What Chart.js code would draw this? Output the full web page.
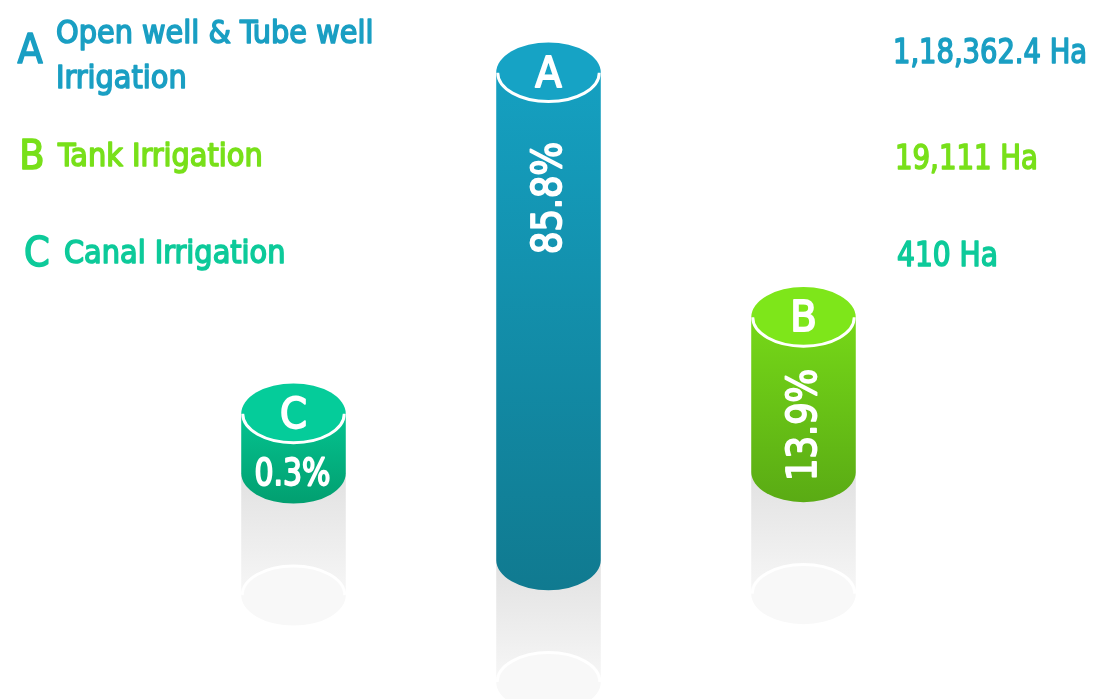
<!DOCTYPE html>
<html>
<head>
<meta charset="utf-8">
<script src="https://cdn.jsdelivr.net/npm/chart.js@4.4.1/dist/chart.umd.min.js"></script>
<style>
  html, body { margin: 0; padding: 0; background: #ffffff; }
  #wrap { width: 1093px; height: 699px; }
</style>
</head>
<body>
<div id="wrap"><canvas id="c" width="1093" height="699"></canvas></div>
<script>
// ---------------- data ----------------
const categories = ['C', 'A', 'B'];
const sharePct = [0.3, 85.8, 13.9];
// cylinder extents as drawn in the infographic (not proportional to share)
const cylinderBase = [32.3, 19.9, 32.5];
const cylinderTop = [40.8, 89.6, 54.6];

const legendLetters = ['A', 'B', 'C'];
const legendNames = [['Open well & Tube well', 'Irrigation'], ['Tank Irrigation'], ['Canal Irrigation']];
const legendAreas = ['1,18,362.4 Ha', '19,111 Ha', '410 Ha'];

// ---------------- styles ----------------
const FONT = '"DejaVu Sans Condensed", "DejaVu Sans", sans-serif';
const palette = {
  A: { text: '#1a9fc3', top: '#16a3c5', hi: '#15a0c1', lo: '#107a90' },
  B: { text: '#78e01a', top: '#7ee61a', hi: '#76d818', lo: '#5aab14' },
  C: { text: '#0dca9a', top: '#05cc9a', hi: '#04c390', lo: '#029f70' }
};

function thickText(ctx, txt, x, y, color, size, maxW, lw) {
  ctx.font = size + 'px ' + FONT;
  ctx.fillStyle = color;
  ctx.strokeStyle = color;
  ctx.lineWidth = lw || 1.5;
  ctx.lineJoin = 'round';
  if (maxW) { ctx.fillText(txt, x, y, maxW); ctx.strokeText(txt, x, y, maxW); }
  else { ctx.fillText(txt, x, y); ctx.strokeText(txt, x, y); }
}

const cylinderPlugin = {
  id: 'cylinders',
  afterDatasetsDraw(chart) {
    const ctx = chart.ctx;
    const meta = chart.getDatasetMeta(0);
    meta.data.forEach((bar, i) => {
      const key = categories[i];
      const col = palette[key];
      const cx = bar.x;
      const rx = bar.width / 2;
      const ry = bar.width * 0.29;
      const yTop = Math.min(bar.y, bar.base);
      const yBot = Math.max(bar.y, bar.base);
      ctx.save();
      // reflection
      const refLen = 122;
      let g = ctx.createLinearGradient(0, yBot, 0, yBot + refLen + ry);
      g.addColorStop(0, '#e1e1e1');
      g.addColorStop(0.55, '#f0f0f0');
      g.addColorStop(1, '#fcfcfc');
      ctx.fillStyle = g;
      ctx.fillRect(cx - rx, yBot, rx * 2, refLen);
      ctx.beginPath();
      ctx.ellipse(cx, yBot + refLen, rx, ry, 0, 0, Math.PI * 2);
      ctx.fillStyle = '#f8f8f8';
      ctx.fill();
      ctx.beginPath();
      ctx.ellipse(cx, yBot + refLen, rx - 1, ry - 1, 0, Math.PI, Math.PI * 2);
      ctx.strokeStyle = 'rgba(255,255,255,0.95)';
      ctx.lineWidth = 3;
      ctx.stroke();
      // body
      g = ctx.createLinearGradient(0, yTop, 0, yBot + ry);
      g.addColorStop(0, col.hi);
      g.addColorStop(1, col.lo);
      ctx.fillStyle = g;
      ctx.beginPath();
      ctx.moveTo(cx - rx, yTop);
      ctx.lineTo(cx - rx, yBot);
      ctx.ellipse(cx, yBot, rx, ry, 0, Math.PI, 0, true);
      ctx.lineTo(cx + rx, yTop);
      ctx.closePath();
      ctx.fill();
      // top
      ctx.beginPath();
      ctx.ellipse(cx, yTop, rx, ry, 0, 0, Math.PI * 2);
      ctx.fillStyle = col.top;
      ctx.fill();
      ctx.beginPath();
      ctx.ellipse(cx, yTop, rx - 1.5, ry - 1.5, 0, 0, Math.PI);
      ctx.strokeStyle = '#ffffff';
      ctx.lineWidth = 3;
      ctx.stroke();
      // letter
      ctx.textAlign = 'center';
      ctx.textBaseline = 'alphabetic';
      thickText(ctx, key, cx, yTop + 14, '#ffffff', 43, undefined, 1.8);
      // percentage
      const label = sharePct[i].toFixed(1) + '%';
      if (yBot - yTop > 100) {
        const span = Math.min(yBot - yTop, 190);
        ctx.save();
        ctx.translate(cx, yTop + ry + span / 2);
        ctx.rotate(-Math.PI / 2);
        ctx.textAlign = 'center';
        ctx.textBaseline = 'middle';
        thickText(ctx, label, 0, 2, '#ffffff', 40, 112, 1.8);
        ctx.restore();
      } else {
        ctx.textAlign = 'center';
        ctx.textBaseline = 'middle';
        thickText(ctx, label, cx - 1, (yTop + yBot) / 2 + ry + 2, '#ffffff', 37, 76, 1.8);
      }
      ctx.restore();
    });
    // legend / annotations
    ctx.save();
    const rowY = [63, 169, 266];
    const letterX = [30, 32, 37];
    const nameX = [56, 58, 64];
    const areaX = [893, 895, 897];
    const areaW = [194, 143, 101];
    legendLetters.forEach((L, i) => {
      const col = palette[L].text;
      ctx.textBaseline = 'alphabetic';
      ctx.textAlign = 'center';
      thickText(ctx, L, letterX[i], rowY[i], col, 41);
      ctx.textAlign = 'left';
      const lines = legendNames[i];
      if (lines.length === 2) {
        thickText(ctx, lines[0], nameX[i], rowY[i] - 20, col, 32, 328);
        thickText(ctx, lines[1], nameX[i], rowY[i] + 25, col, 32);
      } else {
        thickText(ctx, lines[0], nameX[i], rowY[i] - 3, col, 32);
      }
      thickText(ctx, legendAreas[i], areaX[i], rowY[i], col, 33, areaW[i]);
    });
    ctx.restore();
  }
};

new Chart(document.getElementById('c'), {
  type: 'bar',
  data: {
    labels: categories,
    datasets: [{
      data: categories.map((c, i) => [cylinderBase[i], cylinderTop[i]]),
      backgroundColor: 'rgba(0,0,0,0)',
      borderWidth: 0,
      barPercentage: 0.41,
      categoryPercentage: 1
    }]
  },
  options: {
    responsive: false,
    animation: false,
    devicePixelRatio: 1,
    layout: { padding: { left: 166, right: 162, top: 0, bottom: 0 } },
    plugins: { legend: { display: false }, tooltip: { enabled: false }, title: { display: false } },
    scales: {
      x: { display: false, offset: true },
      y: { display: false, min: 0, max: 100 }
    }
  },
  plugins: [cylinderPlugin]
});
</script>
</body>
</html>
